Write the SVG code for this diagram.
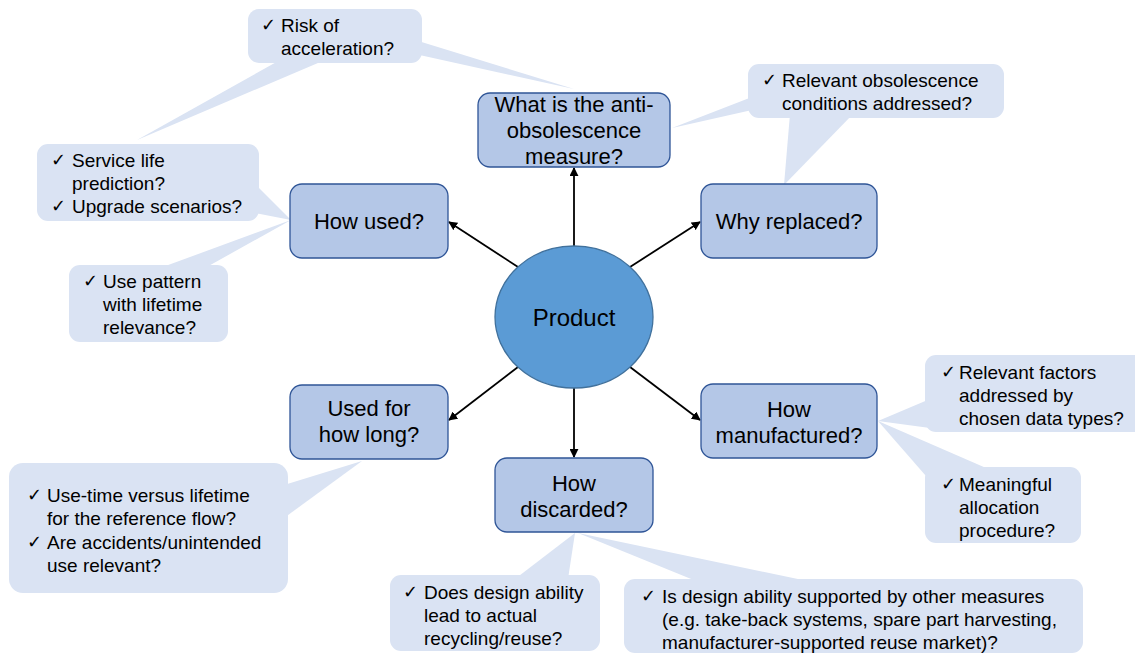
<svg xmlns="http://www.w3.org/2000/svg" width="1135" height="655" viewBox="0 0 1135 655">
  <style>
    .node { fill: #B4C7E7; stroke: #2F5597; stroke-width: 1.3; }
    .core { fill: #5B9BD5; stroke: #41719C; stroke-width: 1.3; }
    .note { fill: #DAE3F3; stroke: none; }
    .nt { font-family: "Liberation Sans", Arial, sans-serif; font-size: 22px; fill: #000; text-anchor: middle; }
    .ct { font-family: "Liberation Sans", Arial, sans-serif; font-size: 19px; fill: #000; }
    .ck { font-family: "DejaVu Sans", sans-serif; font-size: 18px; fill: #000; }
    .edge { stroke: #000; stroke-width: 1.8; fill: none; marker-end: url(#arrow); }
  </style>
  <defs>
    <marker id="arrow" viewBox="0 0 10 10" refX="9" refY="5" markerWidth="5" markerHeight="5" orient="auto">
      <path d="M0,0 L10,5 L0,10 z" fill="#000"/>
    </marker>
  </defs>

  <rect width="1135" height="655" fill="#fff"/>

  <!-- callouts (drawn first so node boxes sit on top of tail tips) -->
  <g id="note-acceleration">
    <polygon class="note" points="415,40 574,89 415,54"/>
    <polygon class="note" points="280,60 325,60 137,140"/>
    <rect class="note" x="248" y="9" width="174" height="54" rx="11"/>
    <text class="ck" x="261" y="31">✓</text>
    <text class="ct" x="281" y="32">Risk of</text>
    <text class="ct" x="281" y="55">acceleration?</text>
  </g>

  <g id="note-obsolescence">
    <polygon class="note" points="752,97 752,110 672,128"/>
    <polygon class="note" points="790,114 853,114 784,185"/>
    <rect class="note" x="748" y="64" width="256" height="54" rx="11"/>
    <text class="ck" x="762" y="86">✓</text>
    <text class="ct" x="782" y="87">Relevant obsolescence</text>
    <text class="ct" x="782" y="110">conditions addressed?</text>
  </g>

  <g id="note-service">
    <polygon class="note" points="255,184 255,213 291,220"/>
    <rect class="note" x="37" y="144" width="222" height="77" rx="11"/>
    <text class="ck" x="51" y="166">✓</text>
    <text class="ct" x="72" y="167">Service life</text>
    <text class="ct" x="72" y="190">prediction?</text>
    <text class="ck" x="51" y="212">✓</text>
    <text class="ct" x="72" y="213">Upgrade scenarios?</text>
  </g>

  <g id="note-pattern">
    <polygon class="note" points="160,268 205,268 291,220"/>
    <rect class="note" x="69" y="265" width="159" height="77" rx="11"/>
    <text class="ck" x="83" y="287">✓</text>
    <text class="ct" x="103" y="288">Use pattern</text>
    <text class="ct" x="103" y="311">with lifetime</text>
    <text class="ct" x="103" y="334">relevance?</text>
  </g>

  <g id="note-factors">
    <polygon class="note" points="930,399 930,428 878,421"/>
    <rect class="note" x="925" y="355" width="222" height="77" rx="11"/>
    <text class="ck" x="941" y="378">✓</text>
    <text class="ct" x="959" y="379">Relevant factors</text>
    <text class="ct" x="959" y="402">addressed by</text>
    <text class="ct" x="959" y="425">chosen data types?</text>
  </g>

  <g id="note-allocation">
    <polygon class="note" points="878,421 993,471 926,476"/>
    <rect class="note" x="925" y="467" width="156" height="76" rx="11"/>
    <text class="ck" x="941" y="490">✓</text>
    <text class="ct" x="959" y="491">Meaningful</text>
    <text class="ct" x="959" y="514">allocation</text>
    <text class="ct" x="959" y="537">procedure?</text>
  </g>

  <g id="note-usetime">
    <polygon class="note" points="284,485 284,518 362,461"/>
    <rect class="note" x="9" y="463" width="279" height="130" rx="14"/>
    <text class="ck" x="27" y="501">✓</text>
    <text class="ct" x="47" y="502">Use-time versus lifetime</text>
    <text class="ct" x="47" y="525">for the reference flow?</text>
    <text class="ck" x="27" y="548">✓</text>
    <text class="ct" x="47" y="549">Are accidents/unintended</text>
    <text class="ct" x="47" y="572">use relevant?</text>
  </g>

  <g id="note-recycling">
    <polygon class="note" points="515,579 568,579 575,533"/>
    <rect class="note" x="390" y="575" width="210" height="76" rx="11"/>
    <text class="ck" x="403" y="598">✓</text>
    <text class="ct" x="424" y="599">Does design ability</text>
    <text class="ct" x="424" y="622">lead to actual</text>
    <text class="ct" x="424" y="645">recycling/reuse?</text>
  </g>

  <g id="note-measures">
    <polygon class="note" points="578,533 701,583 817,583"/>
    <rect class="note" x="624" y="579" width="459" height="74" rx="11"/>
    <text class="ck" x="641" y="602">✓</text>
    <text class="ct" x="662" y="603">Is design ability supported by other measures</text>
    <text class="ct" x="662" y="626">(e.g. take-back systems, spare part harvesting,</text>
    <text class="ct" x="662" y="649">manufacturer-supported reuse market)?</text>
  </g>

  <!-- connectors from the product to each question -->
  <g id="connectors">
    <line class="edge" x1="574" y1="246" x2="574" y2="168"/>
    <line class="edge" x1="574" y1="388" x2="574" y2="457"/>
    <line class="edge" x1="518" y1="267" x2="449" y2="222"/>
    <line class="edge" x1="630" y1="267" x2="700" y2="222"/>
    <line class="edge" x1="518" y1="367" x2="449" y2="420"/>
    <line class="edge" x1="630" y1="367" x2="700" y2="420"/>
  </g>

  <!-- question nodes -->
  <g id="node-product">
    <ellipse class="core" cx="574" cy="317" rx="79" ry="71"/>
    <text class="nt" x="574" y="326" style="font-size:24px">Product</text>
  </g>

  <g id="node-measure">
    <rect class="node" x="478" y="93" width="192" height="74" rx="12"/>
    <text class="nt" x="574" y="112">What is the anti-</text>
    <text class="nt" x="574" y="138">obsolescence</text>
    <text class="nt" x="574" y="164">measure?</text>
  </g>

  <g id="node-replaced">
    <rect class="node" x="701" y="184" width="176" height="74" rx="12"/>
    <text class="nt" x="789" y="229">Why replaced?</text>
  </g>

  <g id="node-used">
    <rect class="node" x="290" y="184" width="158" height="74" rx="12"/>
    <text class="nt" x="369" y="229">How used?</text>
  </g>

  <g id="node-duration">
    <rect class="node" x="290" y="385" width="158" height="74" rx="12"/>
    <text class="nt" x="369" y="416">Used for</text>
    <text class="nt" x="369" y="442">how long?</text>
  </g>

  <g id="node-manufactured">
    <rect class="node" x="701" y="384" width="176" height="74" rx="12"/>
    <text class="nt" x="789" y="417">How</text>
    <text class="nt" x="789" y="443">manufactured?</text>
  </g>

  <g id="node-discarded">
    <rect class="node" x="495" y="458" width="158" height="74" rx="12"/>
    <text class="nt" x="574" y="491">How</text>
    <text class="nt" x="574" y="517">discarded?</text>
  </g>
</svg>
